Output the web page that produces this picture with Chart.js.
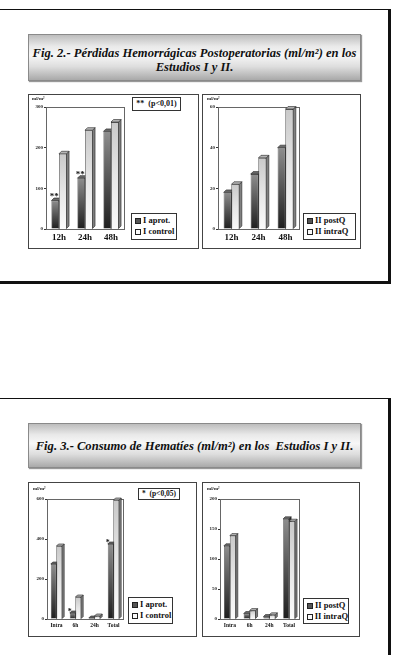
<!DOCTYPE html>
<html><head><meta charset="utf-8">
<script src="https://cdn.jsdelivr.net/npm/chart.js@4.4.0/dist/chart.umd.min.js"></script>
<style>
html,body{margin:0;padding:0;background:#fff;width:394px;height:655px;overflow:hidden;position:relative;font-family:"Times New Roman","Liberation Serif","DejaVu Serif",serif;}
.slide{position:absolute;box-sizing:border-box;border-style:solid;border-color:#111;border-width:1px 3px 3px 1px;background:#fff;}
.title{position:absolute;box-sizing:border-box;border:1px solid #8a8a8a;background:linear-gradient(to bottom,#bdbdbd 0%,#e9e9e9 25%,#f7f7f7 45%,#dedede 70%,#a9a9a9 100%);box-shadow:1px 1px 1px #999;text-align:center;font-weight:bold;font-style:italic;color:#111;font-size:12.6px;line-height:14px;}
.panel{position:absolute;box-sizing:border-box;border:1px solid #444;background:#fff;}
.panel canvas{position:absolute;left:0;top:0;}
.unit{position:absolute;font-size:5px;font-weight:bold;color:#222;white-space:nowrap;}
.note{position:absolute;box-sizing:border-box;border:1px solid #333;font-weight:bold;font-size:8px;line-height:10px;color:#111;white-space:nowrap;text-align:center;background:#fff;}
.leg{position:absolute;box-sizing:border-box;border:1px solid #333;background:#fff;font-weight:bold;color:#111;white-space:nowrap;padding:1px 0 0 3px;}
.leg div{display:flex;align-items:center;}
.sw{display:inline-block;width:6px;height:6px;border:1px solid #222;margin-right:2px;box-sizing:border-box;}
.sw.d{background:#555;}
.sw.l{background:#fafafa;}
</style></head>
<body>
<div class="slide" style="left:-2px;top:9px;width:393px;height:275px;"></div>
<div class="slide" style="left:-2px;top:398px;width:393px;height:300px;"></div>

<div class="title" style="left:28px;top:34px;width:333px;height:47px;padding-top:11px;">Fig. 2.- Pérdidas Hemorrágicas Postoperatorias (ml/m²) en los<br>Estudios I y II.</div>
<div class="title" style="left:28px;top:423px;width:333px;height:45px;padding-top:15px;">Fig. 3.- Consumo de Hematíes (ml/m²) en los&nbsp; Estudios I y II.</div>

<div class="panel" style="left:28px;top:94px;width:171px;height:155px;">
  <canvas id="c1" width="169" height="153"></canvas>
  <div class="unit" style="left:3px;top:1px;">ml/m²</div>
  <div class="note" style="left:103px;top:2px;width:49px;height:14px;line-height:12px;">**&nbsp; (p&lt;0,01)</div>
  <div class="leg" style="left:102px;top:118px;width:46px;height:27px;font-size:8.5px;line-height:11px;">
    <div><span class="sw d"></span><span id="l1a"></span></div><div><span class="sw l"></span><span id="l1b"></span></div>
  </div>
</div>
<div class="panel" style="left:202px;top:94px;width:159px;height:155px;">
  <canvas id="c2" width="157" height="153"></canvas>
  <div class="unit" style="left:4px;top:1px;">ml/m²</div>
  <div class="leg" style="left:100px;top:118px;width:53px;height:27px;font-size:8.5px;line-height:11px;">
    <div><span class="sw d"></span><span id="l2a"></span></div><div><span class="sw l"></span><span id="l2b"></span></div>
  </div>
</div>
<div class="panel" style="left:28px;top:482px;width:169px;height:155px;">
  <canvas id="c3" width="167" height="153"></canvas>
  <div class="unit" style="left:4px;top:3px;">ml/m²</div>
  <div class="note" style="left:109px;top:5px;width:42px;height:12px;line-height:10px;font-size:7.5px;">*&nbsp; (p&lt;0,05)</div>
  <div class="leg" style="left:99px;top:114px;width:45px;height:27px;font-size:8.5px;line-height:11px;">
    <div><span class="sw d"></span><span id="l3a"></span></div><div><span class="sw l"></span><span id="l3b"></span></div>
  </div>
</div>
<div class="panel" style="left:202px;top:482px;width:158px;height:155px;">
  <canvas id="c4" width="156" height="153"></canvas>
  <div class="unit" style="left:4px;top:3px;">ml/m²</div>
  <div class="leg" style="left:100px;top:115px;width:46px;height:26px;font-size:8.5px;line-height:11px;">
    <div><span class="sw d"></span><span id="l4a"></span></div><div><span class="sw l"></span><span id="l4b"></span></div>
  </div>
</div>

<script>
// ---- data ----
const hours = ['12h', '24h', '48h'];
const phases = ['Intra', '6h', '24h', 'Total'];

const seriesNames1 = ['I aprot.', 'I control'];
const seriesNames2 = ['II postQ', 'II intraQ'];

// Fig. 2 - Study I
const aprotLoss = [70, 125, 240];
const controlLoss = [185, 243, 263];
const aprotLossSig = ['**', '**', ''];
// Fig. 2 - Study II
const postQLoss = [18, 27, 40];
const intraQLoss = [22, 35, 59];
// Fig. 3 - Study I
const aprotRbc = [275, 30, 5, 375];
const controlRbc = [365, 110, 15, 595];
const aprotRbcSig = ['', '*', '', '*'];
// Fig. 3 - Study II
const postQRbc = [122, 9, 4, 167];
const intraQRbc = [139, 14, 7, 163];

// y-axis tick labels
const yTicks1 = [0, 100, 200, 300];
const yTicks2 = [0, 20, 40, 60];
const yTicks3 = [0, 200, 400, 600];
const yTicks4 = [0, 50, 100, 150, 200];

// ---- rendering ----
const FONT = '"Times New Roman", "Liberation Serif", "DejaVu Serif", serif';

function barGradient(kind) {
  return function (ctx) {
    const chart = ctx.chart;
    const y = chart.scales && chart.scales.y;
    if (!y || ctx.raw === undefined || !chart.chartArea) return kind === 'dark' ? '#555' : '#eee';
    const top = y.getPixelForValue(ctx.raw);
    const base = y.getPixelForValue(0);
    const g = chart.ctx.createLinearGradient(0, top, 0, Math.max(base, top + 1));
    if (kind === 'dark') { g.addColorStop(0, '#8e8e8e'); g.addColorStop(0.5, '#555'); g.addColorStop(1, '#1e1e1e'); }
    else { g.addColorStop(0, '#c9c9c9'); g.addColorStop(0.5, '#e6e6e6'); g.addColorStop(1, '#fbfbfb'); }
    return g;
  };
}

const framePlugin = {
  id: 'frame',
  beforeDatasetsDraw(chart) {
    const a = chart.chartArea, c = chart.ctx;
    c.save(); c.strokeStyle = '#666'; c.lineWidth = 1;
    c.strokeRect(Math.round(a.left) + 0.5, Math.round(a.top) + 0.5, Math.round(a.right - a.left), Math.round(a.bottom - a.top));
    c.restore();
  }
};

function faces(c, el, d, sideCol, topCol) {
  const l = el.x - el.width / 2, r = el.x + el.width / 2, t = el.y, b = el.base;
  c.lineWidth = 0.6; c.strokeStyle = '#222';
  c.beginPath(); c.moveTo(r, t); c.lineTo(r + d, t - d); c.lineTo(r + d, b - d); c.lineTo(r, b); c.closePath();
  c.fillStyle = sideCol; c.fill(); c.stroke();
  c.beginPath(); c.moveTo(l, t); c.lineTo(l + d, t - d); c.lineTo(r + d, t - d); c.lineTo(r, t); c.closePath();
  c.fillStyle = topCol; c.fill(); c.stroke();
}

const bars3dPlugin = {
  id: 'bars3d',
  afterDatasetsDraw(chart, args, opts) {
    const d = opts.depth || 2.5;
    const c = chart.ctx;
    const m0 = chart.getDatasetMeta(0).data, m1 = chart.getDatasetMeta(1).data;
    c.save();
    c.beginPath(); c.rect(chart.chartArea.left, 0, chart.width, chart.chartArea.bottom + 1); c.clip();
    for (let i = 0; i < m0.length; i++) {
      faces(c, m0[i], d, '#2c2c2c', '#6a6a6a');
      m1[i].draw(c);
      faces(c, m1[i], d, '#808080', '#b5b5b5');
    }
    c.restore();
  }
};

const sigPlugin = {
  id: 'sig',
  afterDatasetsDraw(chart, args, opts) {
    if (!opts.marks) return;
    const c = chart.ctx, els = chart.getDatasetMeta(0).data;
    c.save(); c.fillStyle = '#111'; c.font = 'bold ' + opts.size + 'px ' + FONT;
    c.textAlign = 'center'; c.textBaseline = 'bottom';
    opts.marks.forEach((m, i) => { if (m) c.fillText(m, els[i].x + (opts.dx || 0), els[i].y + (opts.dy || 0)); });
    c.restore();
  }
};

function makeChart(id, cfg) {
  return new Chart(document.getElementById(id), {
    type: 'bar',
    data: {
      labels: cfg.labels,
      datasets: [
        { label: cfg.names[0], data: cfg.dark, backgroundColor: barGradient('dark'), borderColor: '#222', borderWidth: 0.6 },
        { label: cfg.names[1], data: cfg.light, backgroundColor: barGradient('light'), borderColor: '#333', borderWidth: 0.6 }
      ]
    },
    options: {
      responsive: false, animation: false, devicePixelRatio: 1,
      layout: { padding: { left: 0, right: cfg.padR, top: cfg.padT, bottom: 0 } },
      datasets: { bar: { barPercentage: 1, categoryPercentage: cfg.cp } },
      plugins: {
        legend: { display: false }, tooltip: { enabled: false },
        bars3d: { depth: cfg.depth },
        sig: { marks: cfg.sig, size: cfg.sigSize, dx: cfg.sigDx, dy: cfg.sigDy }
      },
      scales: {
        x: {
          grid: { drawOnChartArea: false, drawTicks: false },
          border: { display: true, color: '#333', width: 1 },
          ticks: { font: { family: FONT, weight: 'bold', size: cfg.xFont }, color: '#111', padding: cfg.xPad, maxRotation: 0, autoSkip: false },
          afterFit: s => { s.height = cfg.xH; }
        },
        y: {
          min: cfg.ticks[0], max: cfg.ticks[cfg.ticks.length - 1],
          afterBuildTicks: s => { s.ticks = cfg.ticks.map(v => ({ value: v })); },
          ticks: { font: { family: FONT, weight: 'bold', size: 5 }, color: '#222', padding: 1 },
          grid: { drawOnChartArea: false, drawTicks: true, tickLength: 2, color: '#333' },
          border: { display: true, color: '#333', width: 1 },
          afterFit: s => { s.width = cfg.yW; }
        }
      }
    },
    plugins: [framePlugin, bars3dPlugin, sigPlugin]
  });
}

[['l1a', seriesNames1[0]], ['l1b', seriesNames1[1]], ['l2a', seriesNames2[0]], ['l2b', seriesNames2[1]],
 ['l3a', seriesNames1[0]], ['l3b', seriesNames1[1]], ['l4a', seriesNames2[0]], ['l4b', seriesNames2[1]]]
  .forEach(([id, t]) => { document.getElementById(id).textContent = t; });

makeChart('c1', { labels: hours, names: seriesNames1, dark: aprotLoss, light: controlLoss, ticks: yTicks1,
  padR: 74, padT: 12, yW: 17, xH: 19, xFont: 9, xPad: 3, cp: 0.58, depth: 2.5,
  sig: aprotLossSig, sigSize: 9, sigDx: -1, sigDy: 1 });
makeChart('c2', { labels: hours, names: seriesNames2, dark: postQLoss, light: intraQLoss, ticks: yTicks2,
  padR: 61, padT: 12, yW: 15, xH: 19, xFont: 9, xPad: 3, cp: 0.58, depth: 2.5 });
makeChart('c3', { labels: phases, names: seriesNames1, dark: aprotRbc, light: controlRbc, ticks: yTicks3,
  padR: 73, padT: 16, yW: 18, xH: 17, xFont: 5.5, xPad: 3, cp: 0.6, depth: 2,
  sig: aprotRbcSig, sigSize: 8, sigDx: -3, sigDy: 3 });
makeChart('c4', { labels: phases, names: seriesNames2, dark: postQRbc, light: intraQRbc, ticks: yTicks4,
  padR: 60, padT: 16, yW: 17, xH: 17, xFont: 5.5, xPad: 3, cp: 0.6, depth: 2 });
</script>
</body></html>
